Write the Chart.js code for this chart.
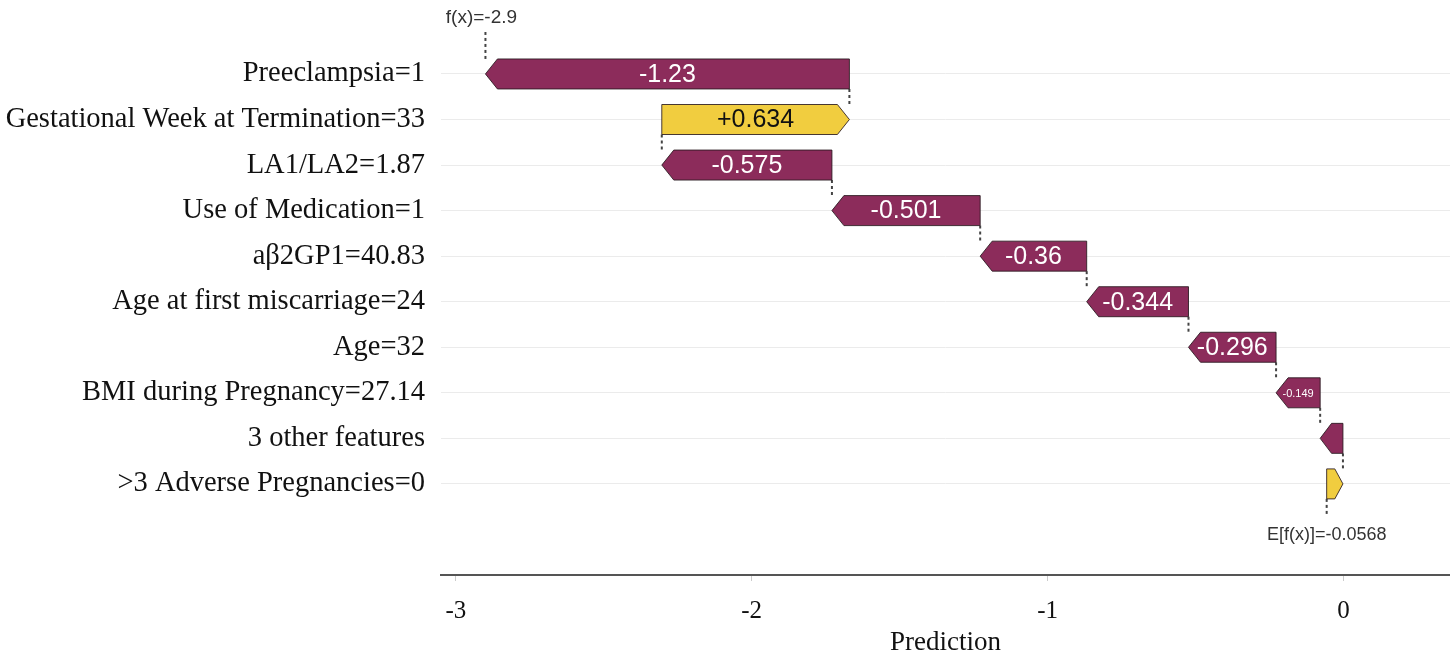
<!DOCTYPE html>
<html>
<head>
<meta charset="utf-8">
<script src="https://cdn.jsdelivr.net/npm/chart.js@4.4.1/dist/chart.umd.min.js"></script>
<style>
  html, body { margin: 0; padding: 0; background: #fff; }
  #wrap { width: 1450px; height: 656px; }
</style>
</head>
<body>
<div id="wrap"><canvas id="shapChart" width="1450" height="656"></canvas></div>
<script>
// feature rows, top to bottom
const featureLabels = [
  "Preeclampsia=1",
  "Gestational Week at Termination=33",
  "LA1/LA2=1.87",
  "Use of Medication=1",
  "a\u03B22GP1=40.83",
  "Age at first miscarriage=24",
  "Age=32",
  "BMI during Pregnancy=27.14",
  "3 other features",
  ">3 Adverse Pregnancies=0"
];
const shapValues = [-1.23, 0.634, -0.575, -0.501, -0.36, -0.344, -0.296, -0.149, -0.077, 0.055];
const baseValue = -0.0568;
const xTicks = [-3, -2, -1, 0];

const NEG = "#8C2C5B";
const POS = "#F1CD3F";
const SERIF = "'Liberation Serif', 'Times New Roman', serif";
const SANS = "'Liberation Sans', Arial, sans-serif";

function fmt(v, digits = 3) {
  return String(Number(v.toPrecision(digits)));
}

// running sum from the bottom row (base value) up to f(x)
const starts = new Array(shapValues.length);
const ends = new Array(shapValues.length);
let running = baseValue;
for (let i = shapValues.length - 1; i >= 0; i--) {
  starts[i] = running;
  running += shapValues[i];
  ends[i] = running;
}
const fx = running;

function dashed(ctx, x, y1, y2) {
  ctx.save();
  ctx.strokeStyle = "#444";
  ctx.lineWidth = 2;
  ctx.setLineDash([3, 3]);
  ctx.beginPath();
  ctx.moveTo(x, y1);
  ctx.lineTo(x, y2);
  ctx.stroke();
  ctx.restore();
}

const waterfallPlugin = {
  id: "waterfall",
  afterDatasetsDraw(chart) {
    const ctx = chart.ctx;
    const xs = chart.scales.x;
    const meta = chart.getDatasetMeta(0);
    const els = meta.data;

    // connectors between consecutive bars
    for (let i = 0; i < els.length - 1; i++) {
      const x = xs.getPixelForValue(starts[i]);
      dashed(ctx, x, els[i].y + els[i].height / 2, els[i + 1].y - els[i + 1].height / 2);
    }
    // f(x) and E[f(x)] markers
    const top = els[0];
    const fxPx = xs.getPixelForValue(fx);
    dashed(ctx, fxPx, top.y - top.height / 2, 32);
    const last = els[els.length - 1];
    const ePx = xs.getPixelForValue(baseValue);
    dashed(ctx, ePx, last.y + last.height / 2, 516);

    ctx.save();
    ctx.fillStyle = "#333";
    ctx.textAlign = "center";
    ctx.textBaseline = "middle";
    ctx.font = "19px " + SANS;
    ctx.fillText("f(x)=" + fmt(fx, 2), fxPx - 4, 18);
    ctx.font = "18px " + SANS;
    ctx.fillText("E[f(x)]=" + fmt(baseValue), ePx, 535);
    ctx.restore();

    // arrow shaped bars
    els.forEach((el, i) => {
      const v = shapValues[i];
      const left = Math.min(el.base, el.x);
      const right = Math.max(el.base, el.x);
      const w = right - left;
      const h = el.height;
      const t = el.y - h / 2, b = el.y + h / 2;
      const head = Math.min(12, w * 0.5);
      ctx.save();
      ctx.beginPath();
      if (v < 0) {
        ctx.moveTo(right, t);
        ctx.lineTo(left + head, t);
        ctx.lineTo(left, el.y);
        ctx.lineTo(left + head, b);
        ctx.lineTo(right, b);
      } else {
        ctx.moveTo(left, t);
        ctx.lineTo(right - head, t);
        ctx.lineTo(right, el.y);
        ctx.lineTo(right - head, b);
        ctx.lineTo(left, b);
      }
      ctx.closePath();
      ctx.fillStyle = v < 0 ? NEG : POS;
      ctx.fill();
      ctx.lineWidth = 1;
      ctx.strokeStyle = "rgba(40,25,30,0.85)";
      ctx.stroke();

      let size = 0;
      if (w > 60) size = 25;
      else if (w > 30) size = 11;
      if (size) {
        ctx.fillStyle = v < 0 ? "#fff" : "#111";
        ctx.font = size + "px " + SANS;
        ctx.textAlign = "center";
        ctx.textBaseline = "middle";
        ctx.fillText((v > 0 ? "+" : "") + fmt(v), (left + right) / 2, el.y + 1);
      }
      ctx.restore();
    });
  }
};

const ctx = document.getElementById("shapChart");
new Chart(ctx, {
  type: "bar",
  data: {
    datasets: [{
      data: shapValues.map((v, i) => ({ x: [starts[i], ends[i]], y: i })),
      backgroundColor: "rgba(0,0,0,0)",
      borderWidth: 0,
      barThickness: 30
    }]
  },
  options: {
    indexAxis: "y",
    responsive: false,
    animation: false,
    layout: { padding: { top: 50, left: 0, right: 0, bottom: 0 } },
    plugins: {
      legend: { display: false },
      tooltip: { enabled: false }
    },
    scales: {
      x: {
        type: "linear",
        position: "bottom",
        min: -3.05,
        max: 0.36,
        afterBuildTicks: (scale) => { scale.ticks = xTicks.map(v => ({ value: v })); },
        afterFit: (scale) => { scale.height = 81; },
        border: { display: true, color: "#555", width: 2 },
        grid: { drawOnChartArea: false, drawTicks: true, tickLength: 6, color: "#ccc" },
        ticks: { color: "#111", font: { family: SERIF, size: 25 }, padding: 15 },
        title: {
          display: true,
          text: "Prediction",
          color: "#111",
          font: { family: SERIF, size: 27 },
          padding: { top: 4, bottom: -3 }
        }
      },
      y: {
        type: "linear",
        reverse: true,
        offset: false,
        min: -0.526,
        max: 11.0,
        afterBuildTicks: (scale) => { scale.ticks = featureLabels.map((_, i) => ({ value: i })); },
        afterFit: (scale) => { scale.width = 441; },
        border: { display: false },
        grid: { offset: false, color: "#ebebeb", lineWidth: 1, drawTicks: false },
        ticks: {
          color: "#111",
          font: { family: SERIF, size: 28.5 },
          padding: 16,
          callback: (v) => featureLabels[v] || ""
        }
      }
    }
  },
  plugins: [waterfallPlugin]
});
</script>
</body>
</html>
